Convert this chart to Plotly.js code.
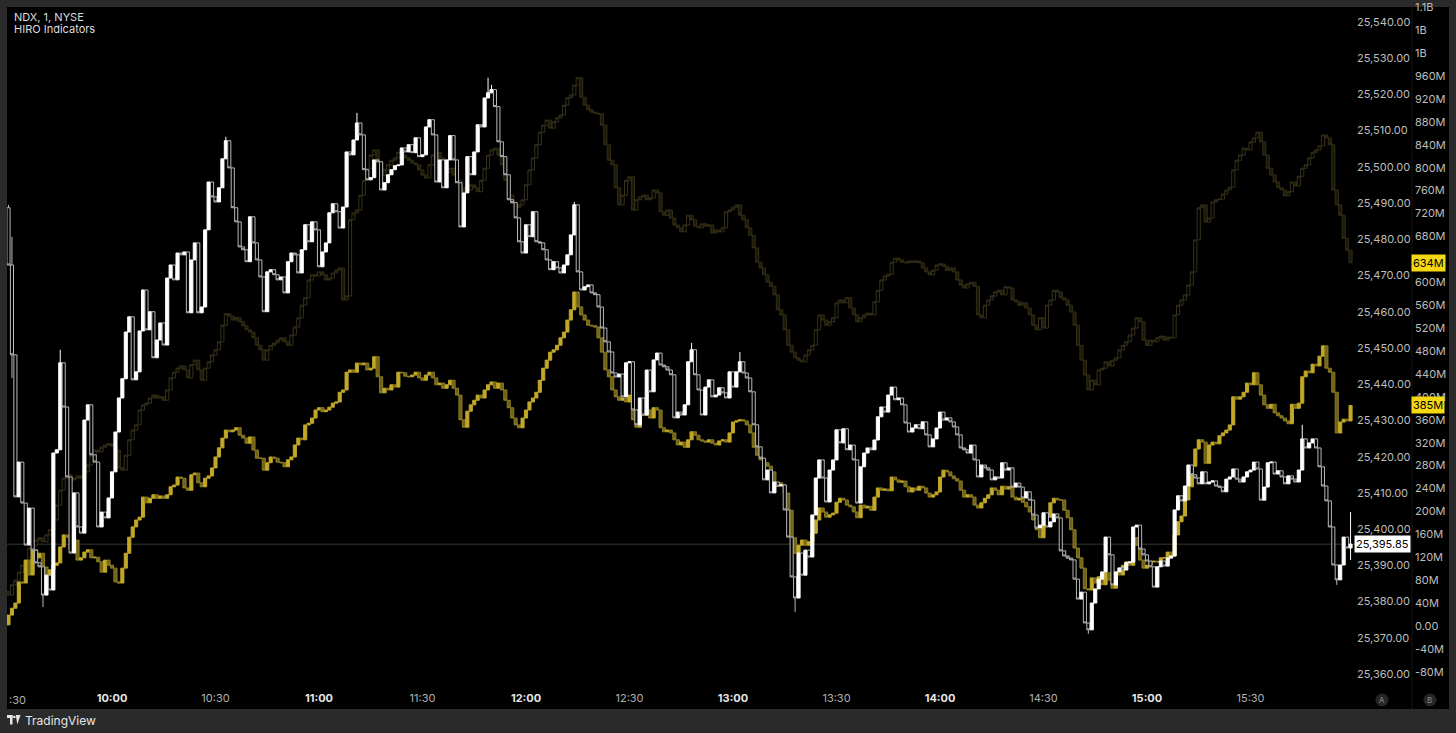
<!DOCTYPE html>
<html><head><meta charset="utf-8">
<script src="https://cdn.plot.ly/plotly-3.0.1.min.js"></script>
<style>html,body{margin:0;padding:0;background:#2a2a2a;overflow:hidden}#chart{width:1456px;height:733px}</style>
</head><body><div id="chart"></div>
<script>
// ---- DATA (1-minute bars from 9:30, index = minutes after 9:30) ----
const timeTickMinutes = [0,30,60,90,120,150,180,210,240,270,300,330,360];
const timeTickLabels = ['9:30','10:00','10:30','11:00','11:30','12:00','12:30','13:00','13:30','14:00','14:30','15:00','15:30'];

const ndxFirstOpen = 25488.7;
const ndxClose = [
25472.9,25448.1,25408.9,25418.5,25407.2,25395.6,25405.8,25394.2,25390.7,25389.6,
25381.8,25387.3,25383.2,25421.0,25421.9,25445.9,25433.7,25414.4,25393.4,25410.0,
25400.6,25398.9,25430.1,25434.3,25420.5,25418.5,25400.6,25404.7,25403.1,25408.6,
25415.8,25426.8,25436.2,25441.5,25454.4,25458.6,25441.2,25443.4,25454.7,25466.0,
25455.0,25460.0,25447.3,25452.2,25456.9,25450.8,25469.3,25472.9,25468.8,25476.2,
25475.7,25476.5,25459.7,25474.3,25479.0,25459.7,25461.3,25482.6,25495.8,25491.7,
25490.3,25494.2,25502.2,25507.2,25499.7,25488.7,25484.8,25477.9,25477.1,25473.8,
25486.2,25479.0,25474.3,25469.6,25460.0,25471.0,25471.6,25470.2,25468.8,25469.6,
25465.2,25473.8,25476.2,25475.7,25470.7,25477.1,25484.0,25479.3,25484.8,25482.6,
25472.4,25476.5,25479.0,25487.3,25489.8,25487.6,25483.1,25488.9,25504.1,25503.3,
25507.4,25512.1,25508.8,25499.2,25496.4,25497.0,25501.9,25501.4,25493.6,25495.6,
25497.8,25499.2,25500.3,25500.5,25505.2,25504.1,25506.1,25503.9,25508.0,25502.8,
25503.3,25511.0,25513.0,25508.8,25495.8,25501.9,25494.2,25501.9,25508.6,25501.9,
25495.6,25483.4,25492.8,25502.8,25497.8,25504.1,25511.6,25511.0,25519.0,25520.4,
25521.3,25516.6,25506.9,25502.8,25497.8,25490.9,25490.1,25485.9,25479.3,25476.2,
25484.0,25480.7,25487.6,25479.3,25479.0,25477.1,25474.3,25471.6,25473.8,25472.1,
25470.7,25472.9,25475.7,25481.2,25489.5,25471.0,25466.0,25466.9,25467.4,25465.2,
25464.7,25461.3,25455.5,25451.7,25448.9,25443.1,25442.0,25442.8,25436.5,25445.9,
25446.2,25432.9,25428.8,25436.2,25431.5,25443.9,25437.9,25446.7,25448.6,25445.3,
25444.8,25443.9,25442.6,25430.7,25432.3,25431.5,25434.3,25446.2,25449.5,25442.6,
25438.4,25431.5,25439.2,25441.2,25436.5,25437.0,25439.0,25437.6,25436.2,25443.4,
25439.2,25443.4,25446.2,25443.1,25441.7,25437.9,25428.8,25422.7,25419.6,25413.6,
25416.3,25410.0,25413.0,25411.9,25412.2,25405.3,25397.8,25386.8,25381.0,25393.4,
25387.3,25394.2,25392.3,25403.9,25414.1,25419.1,25414.1,25407.5,25416.3,25419.1,
25427.4,25423.8,25427.7,25421.9,25423.2,25419.1,25407.2,25417.2,25421.0,25422.4,
25421.9,25424.6,25431.0,25433.7,25432.3,25437.0,25439.2,25435.7,25436.2,25434.3,
25429.3,25426.8,25427.9,25428.8,25427.7,25429.6,25426.0,25422.7,25424.9,25427.9,
25432.3,25430.1,25430.7,25429.6,25428.2,25426.0,25422.4,25421.9,25421.0,25423.2,
25419.1,25414.4,25417.7,25416.9,25416.3,25413.6,25414.4,25414.1,25418.3,25416.3,
25416.9,25411.6,25412.7,25411.6,25408.6,25410.3,25408.0,25403.9,25400.3,25401.1,
25404.5,25400.6,25402.0,25404.2,25403.1,25394.0,25392.6,25392.0,25391.5,25386.2,
25380.7,25382.6,25374.1,25372.2,25379.6,25383.5,25386.2,25388.2,25397.8,25392.9,
25384.6,25388.2,25389.3,25388.7,25390.7,25390.9,25400.6,25401.1,25394.5,25392.9,
25391.2,25389.6,25384.0,25389.6,25391.2,25389.8,25392.0,25392.6,25405.3,25409.2,
25407.8,25411.9,25417.7,25415.0,25414.1,25412.5,25415.8,25412.5,25413.0,25413.3,
25411.9,25411.6,25410.3,25413.8,25414.4,25416.6,25413.8,25413.0,25414.4,25415.8,
25416.3,25418.5,25416.6,25408.0,25411.6,25418.3,25418.5,25415.2,25416.1,25414.4,
25412.5,25414.7,25413.8,25413.0,25416.3,25424.9,25422.4,25423.8,25424.9,25422.4,
25417.2,25411.9,25407.8,25400.6,25390.1,25386.0,25390.1,25397.8,25394.8,25395.85];

// notable NDX wicks (minute, high, low)
const ndxWickMinute = [0,1,10,15,63,101,139,140,164,198,212,228,313,375,385,389];
const ndxWickHigh = [25489.5,25480.7,null,25449.5,25508.3,25514.9,25524.6,25522.6,25490.3,25451.4,25448.9,null,null,25428.8,null,25404.7];
const ndxWickLow  = [null,25441.7,25378.5,null,null,null,null,null,null,null,null,25377.1,25371.1,null,25384.6,25391.5];

// HIRO indicator (bright, millions)
const hiroFirstOpen = 2;
const hiroClose = [
19,31,40,77,75,115,89,133,119,127,
103,84,98,106,110,138,159,155,133,150,
115,119,129,133,119,120,112,94,115,106,
101,77,75,101,127,155,173,185,190,225,
215,223,229,223,227,223,229,243,246,260,
258,241,237,264,267,250,243,258,262,276,
295,311,328,342,339,342,346,333,328,319,
330,307,293,293,272,285,295,293,286,285,
278,290,295,316,328,325,351,354,363,377,
381,374,377,382,389,391,408,412,443,447,
443,459,456,459,447,450,470,435,407,415,
412,421,417,443,442,436,435,438,443,433,
429,438,443,433,421,424,415,421,429,415,
403,360,347,375,386,394,403,398,412,421,
426,415,424,412,394,381,363,351,346,363,
377,391,398,408,429,450,464,478,482,490,
503,513,534,552,583,557,543,534,525,524,
522,503,478,447,435,412,400,394,398,391,
403,360,347,374,368,377,363,381,377,346,
339,342,337,325,316,321,312,325,339,333,
325,323,321,325,319,316,323,325,321,337,
356,358,360,358,351,337,312,298,290,285,
279,269,244,250,246,232,202,154,127,141,
150,141,147,162,185,206,199,190,194,197,
216,223,220,211,208,199,189,211,206,209,
202,225,241,237,239,236,260,255,251,253,
243,234,241,237,244,241,232,225,229,234,
260,272,269,262,257,253,237,225,229,225,
211,206,215,223,229,241,237,229,244,239,
243,225,220,223,216,208,199,185,168,154,
176,190,215,223,220,220,202,189,168,136,
119,101,65,63,84,75,86,72,93,80,
66,94,89,106,112,106,154,141,115,101,
106,112,113,112,119,119,129,122,159,182,
192,220,243,279,309,325,321,284,316,321,
318,332,337,342,351,400,396,400,408,424,
421,442,421,403,386,380,387,372,367,363,
358,353,387,380,389,435,445,442,457,454,
471,489,450,443,408,337,356,361,358,385];

// HIRO indicator (dim, millions)
const hiroDimFirstOpen = 60;
const hiroDimClose = [
54,72,80,94,106,115,136,141,150,154,
147,159,168,185,211,237,258,264,255,258,
262,258,269,281,298,307,304,312,316,318,
314,307,276,272,298,325,342,351,377,386,
389,398,403,398,400,394,412,433,443,450,
454,447,433,456,464,447,429,450,461,473,
482,496,525,545,541,534,538,531,524,517,
513,503,490,482,464,482,490,494,499,503,
496,490,508,522,538,560,573,604,613,611,
618,613,604,607,616,621,625,569,576,709,
721,726,752,778,799,822,831,810,787,796,
805,813,817,827,822,817,813,808,805,796,
787,782,805,822,827,817,805,792,799,787,
778,765,758,761,770,765,758,778,799,822,
831,834,822,805,778,752,738,731,735,744,
770,796,817,840,862,874,883,869,880,887,
892,909,922,927,944,957,923,909,901,897,
895,894,874,840,813,805,765,735,752,778,
784,726,744,749,752,744,747,761,756,723,
717,726,712,700,695,688,700,717,709,698,
695,702,698,700,686,691,688,695,723,726,
731,735,717,709,695,682,660,635,625,613,
600,593,578,552,543,517,490,478,468,464,
461,473,482,490,517,543,534,525,531,538,
564,569,564,573,555,543,531,538,543,546,
543,566,586,604,611,614,635,642,639,635,
634,637,635,637,634,625,618,613,621,630,
632,628,621,625,618,604,595,590,597,600,
593,543,538,560,569,576,583,586,578,592,
590,569,566,560,564,555,543,525,517,538,
520,560,569,586,583,573,569,560,548,525,
490,464,438,412,429,421,447,450,461,454,
464,468,482,490,496,508,520,538,531,499,
490,499,496,503,506,499,504,503,543,560,
569,578,595,618,674,730,735,705,712,740,
744,745,754,761,766,796,813,822,834,831,
845,852,862,845,822,799,787,775,765,761,
751,758,775,768,785,799,805,817,827,831,
838,857,852,840,761,735,717,677,656,634];

const priceTicks = [25360,25370,25380,25390,25400,25410,25420,25430,25440,25450,25460,25470,25480,25490,25500,25510,25520,25530,25540];
const hiroTicks = [-80,-40,0,40,80,120,160,200,240,280,320,360,400,440,480,520,560,600,640,680,720,760,800,840,880,920,960,1000,1040,1080];

// ---- BUILD ----
const minutes = ndxClose.map((_, i) => i);
function ohlc(first, closes, wIdx, wHi, wLo) {
  const o = [], h = [], l = [];
  closes.forEach((c, i) => {
    const op = i === 0 ? first : closes[i - 1];
    o.push(op); h.push(Math.max(op, c)); l.push(Math.min(op, c));
  });
  if (wIdx) wIdx.forEach((k, j) => {
    if (wHi[j] != null) h[k] = Math.max(h[k], wHi[j]);
    if (wLo[j] != null) l[k] = Math.min(l[k], wLo[j]);
  });
  return {o, h, l};
}
const ndx = ohlc(ndxFirstOpen, ndxClose, ndxWickMinute, ndxWickHigh, ndxWickLow);
const hiro = ohlc(hiroFirstOpen, hiroClose);
const dim = ohlc(hiroDimFirstOpen, hiroDimClose);

function fmtHiro(v) {
  if (v === 0) return '0.00';
  if (Math.abs(v) >= 1000) return (+(v / 1000).toFixed(1)).toString() + 'B';
  return v + 'M';
}

const W = 1456, H = 733, L = 7, T = 7, R = 42, B = 43;
const plotW = W - L - R, plotH = H - T - B;
const px = x => (x - L) / plotW;
const py = y => (H - B - y) / plotH;
const dom = px(1356);
const xr = [(L - 8.5) / 3.45, (1356 - 8.5) / 3.45];

const baseCandle = {type: 'candlestick', x: minutes, whiskerwidth: 0, hoverinfo: 'skip', showlegend: false, xaxis: 'x'};
const traces = [
  Object.assign({}, baseCandle, {yaxis: 'y', open: dim.o, high: dim.h, low: dim.l, close: hiroDimClose,
    increasing: {line: {color: '#38321a', width: 1}, fillcolor: '#000000'},
    decreasing: {line: {color: '#332e14', width: 1}, fillcolor: '#1c190a'}}),
  Object.assign({}, baseCandle, {yaxis: 'y', open: hiro.o, high: hiro.h, low: hiro.l, close: hiroClose,
    increasing: {line: {color: '#c2a828', width: 1}, fillcolor: '#c2a828'},
    decreasing: {line: {color: '#8c7c22', width: 1}, fillcolor: '#6e6118'}}),
  Object.assign({}, baseCandle, {yaxis: 'y2', open: ndx.o, high: ndx.h, low: ndx.l, close: ndxClose,
    increasing: {line: {color: '#ffffff', width: 1}, fillcolor: '#ffffff'},
    decreasing: {line: {color: '#b8b8b8', width: 1}, fillcolor: '#000000'}})
];

const tickText = timeTickLabels.map((t, i) => i === 0 ? '' :
  (t.endsWith(':00') ? '<span style="color:#e6e6e6"><b>' + t + '</b></span>' : t));

const lastNdx = ndxClose[ndxClose.length - 1];
const lastHiro = hiroClose[hiroClose.length - 1];
const lastDim = hiroDimClose[hiroDimClose.length - 1];

const layout = {
  width: W, height: H, paper_bgcolor: '#2a2a2a', plot_bgcolor: '#000000',
  margin: {l: L, r: R, t: T, b: B, pad: 0},
  boxgap: 0.1, boxgroupgap: 0, boxmode: 'overlay',
  showlegend: false, dragmode: false, hovermode: false,
  font: {family: 'Inter, Roboto, sans-serif', size: 11, color: '#c4c4c4'},
  xaxis: {domain: [0, dom], range: xr, rangeslider: {visible: false}, showgrid: false, zeroline: false,
    showline: false, ticks: '', tickmode: 'array', tickvals: timeTickMinutes, ticktext: tickText,
    tickfont: {size: 11, color: '#b0b0b0'}, fixedrange: true},
  yaxis: {anchor: 'free', position: 1, side: 'right', range: [(626 - 690) * 1.7455, (626 - 7) * 1.7455],
    tickmode: 'array', tickvals: hiroTicks, ticktext: hiroTicks.map(fmtHiro), showgrid: false,
    zeroline: false, showline: false, ticks: '', tickfont: {size: 11, color: '#bdbdbd'}, fixedrange: true},
  yaxis2: {overlaying: 'y', anchor: 'x', side: 'right', range: [25355.6, 25544.1], tickmode: 'array',
    tickvals: priceTicks, tickformat: ',.2f', showgrid: false, zeroline: false, showline: false, ticks: '',
    tickfont: {size: 11, color: '#bdbdbd'}, fixedrange: true},
  shapes: [
    {type: 'rect', xref: 'paper', yref: 'paper', x0: px(7), x1: px(1449), y0: py(709), y1: py(7),
      fillcolor: '#000000', line: {width: 0}, layer: 'below'},
    {type: 'line', xref: 'paper', yref: 'paper', x0: px(1412), x1: px(1412), y0: py(709), y1: py(7),
      line: {color: '#151515', width: 1}, layer: 'below'},
    {type: 'line', xref: 'paper', yref: 'y2', x0: 0, x1: dom, y0: lastNdx, y1: lastNdx,
      line: {color: '#343a33', width: 1}, layer: 'below'},
    {type: 'circle', xref: 'paper', yref: 'paper', x0: px(1375.5), x1: px(1388.5), y0: py(706.5), y1: py(693.5),
      fillcolor: '#262626', line: {width: 0}},
    {type: 'circle', xref: 'paper', yref: 'paper', x0: px(1423.5), x1: px(1436.5), y0: py(706.5), y1: py(693.5),
      fillcolor: '#262626', line: {width: 0}},
    // TradingView logo
    {type: 'rect', xref: 'paper', yref: 'paper', x0: px(7), x1: px(12.5), y0: py(718), y1: py(715),
      fillcolor: '#e6e6e6', line: {width: 0}},
    {type: 'rect', xref: 'paper', yref: 'paper', x0: px(10), x1: px(12.5), y0: py(724.5), y1: py(715),
      fillcolor: '#e6e6e6', line: {width: 0}},
    {type: 'circle', xref: 'paper', yref: 'paper', x0: px(13), x1: px(15.6), y0: py(718.3), y1: py(715.7),
      fillcolor: '#e6e6e6', line: {width: 0}},
    {type: 'path', xref: 'paper', yref: 'paper',
      path: 'M ' + px(15.8) + ',' + py(715) + ' L ' + px(20.5) + ',' + py(715) + ' L ' + px(17.3) + ',' + py(724.5) + ' Z',
      fillcolor: '#e6e6e6', line: {width: 0}}
  ],
  annotations: [
    {xref: 'paper', yref: 'paper', x: px(12), y: py(17), xanchor: 'left', yanchor: 'middle', showarrow: false,
      text: 'NDX, 1, NYSE', font: {size: 11, color: '#dcdcdc'}},
    {xref: 'paper', yref: 'paper', x: px(12), y: py(29), xanchor: 'left', yanchor: 'middle', showarrow: false,
      text: 'HIRO Indicators', font: {size: 11, color: '#dcdcdc'}},
    {xref: 'paper', yref: 'paper', x: px(7), y: py(700), xanchor: 'left', yanchor: 'middle', showarrow: false,
      text: ':30', font: {size: 11, color: '#b0b0b0'}},
    {xref: 'paper', yref: 'paper', x: px(23), y: py(720), xanchor: 'left', yanchor: 'middle', showarrow: false,
      text: 'TradingView', font: {size: 12, color: '#e6e6e6'}},
    {xref: 'paper', yref: 'paper', x: px(1382), y: py(700), xanchor: 'center', yanchor: 'middle', showarrow: false,
      text: 'A', font: {size: 8, color: '#8c8c8c'}},
    {xref: 'paper', yref: 'paper', x: px(1430), y: py(700), xanchor: 'center', yanchor: 'middle', showarrow: false,
      text: 'B', font: {size: 8, color: '#8c8c8c'}},
    {xref: 'paper', yref: 'y2', x: px(1354), y: lastNdx, xanchor: 'left', yanchor: 'middle', showarrow: false,
      text: lastNdx.toLocaleString('en-US', {minimumFractionDigits: 2, maximumFractionDigits: 2}),
      bgcolor: '#ffffff', borderpad: 1, font: {size: 11, color: '#000000'}},
    {xref: 'paper', yref: 'y', x: px(1411), y: lastDim, xanchor: 'left', yanchor: 'middle', showarrow: false,
      text: fmtHiro(lastDim), bgcolor: '#f5d812', borderpad: 1, font: {size: 11, color: '#000000'}},
    {xref: 'paper', yref: 'y', x: px(1411), y: lastHiro, xanchor: 'left', yanchor: 'middle', showarrow: false,
      text: fmtHiro(lastHiro), bgcolor: '#f5d812', borderpad: 1, font: {size: 11, color: '#000000'}}
  ]
};

Plotly.newPlot('chart', traces, layout, {staticPlot: true, displayModeBar: false});
</script>
</body></html>
